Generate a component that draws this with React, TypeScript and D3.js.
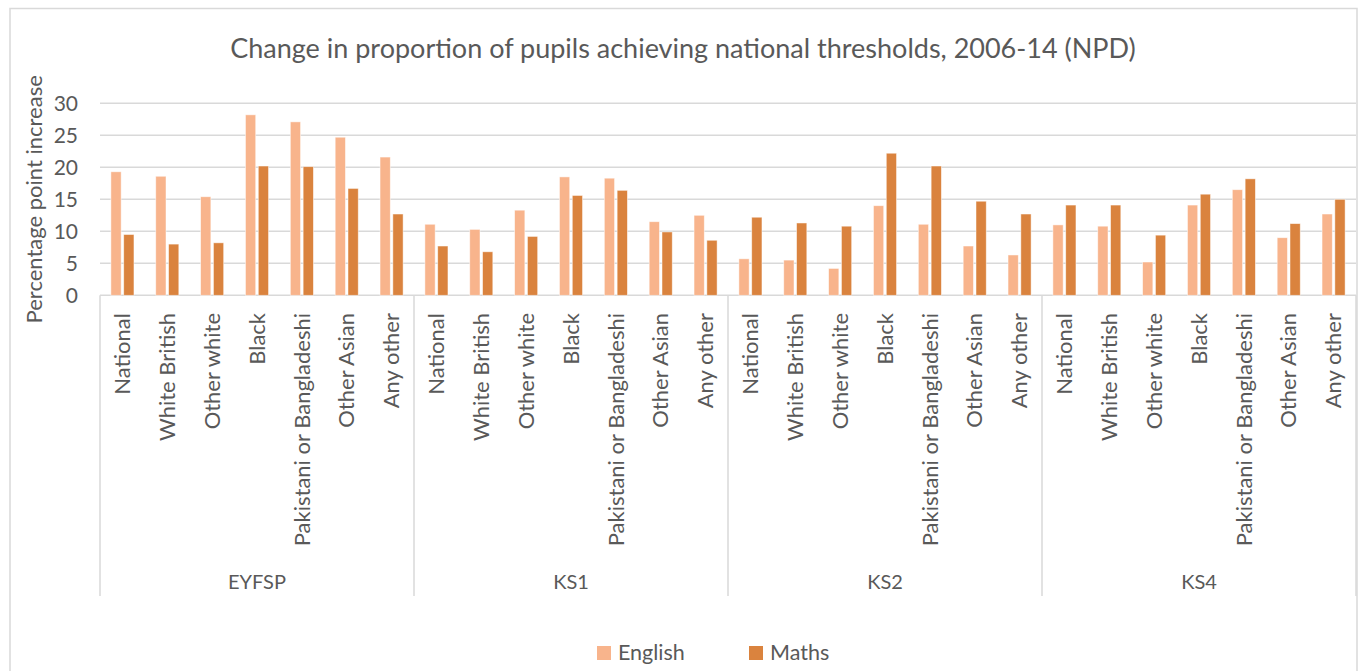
import React from "react";
import * as d3 from "d3";

const title = "Change in proportion of pupils achieving national thresholds, 2006-14 (NPD)";
const yAxisTitle = "Percentage point increase";
const stages = ["EYFSP", "KS1", "KS2", "KS4"];
const ethnicities = [
  "National",
  "White British",
  "Other white",
  "Black",
  "Pakistani or Bangladeshi",
  "Other Asian",
  "Any other",
];
const seriesNames = ["English", "Maths"];
// values ordered EYFSP, KS1, KS2, KS4 x ethnicities
const englishValues = [
  19.3, 18.6, 15.4, 28.2, 27.1, 24.7, 21.6,
  11.1, 10.3, 13.3, 18.5, 18.3, 11.5, 12.5,
  5.7, 5.5, 4.2, 14.0, 11.1, 7.7, 6.3,
  11.0, 10.8, 5.2, 14.1, 16.5, 9.0, 12.7,
];
const mathsValues = [
  9.5, 8.0, 8.2, 20.2, 20.1, 16.7, 12.7,
  7.7, 6.8, 9.2, 15.6, 16.4, 9.9, 8.6,
  12.2, 11.3, 10.8, 22.2, 20.2, 14.7, 12.7,
  14.1, 14.1, 9.4, 15.8, 18.2, 11.2, 15.0,
];
const yTicks = [0, 5, 10, 15, 20, 25, 30];

const W = 1360;
const H = 671;
const plotLeft = 100;
const plotRight = 1356;
const plotTop = 103.3;
const plotBottom = 295.3;
const sepBottom = 596;

const colors = ["#F8B48C", "#DA833E"];
const textColor = "#595959";
const gridColor = "#D9D9D9";
const font = "Lato, 'Open Sans', sans-serif";

export default function App() {
  const keys = stages.flatMap((s) => ethnicities.map((e) => `${s}|${e}`));
  const x0 = d3.scaleBand<string>().domain(keys).range([plotLeft, plotRight]).padding(0);
  const x1 = d3
    .scaleBand<string>()
    .domain(seriesNames)
    .range([0, x0.bandwidth()])
    .paddingInner(0.2)
    .paddingOuter(0.85);
  const xg = d3.scaleBand<string>().domain(stages).range([plotLeft, plotRight]).padding(0);
  const y = d3.scaleLinear().domain([0, 30]).range([plotBottom, plotTop]);
  const series = [englishValues, mathsValues];

  return (
    <svg
      width={W}
      height={H}
      style={{ position: "absolute", left: 0, top: 0, background: "#fff" }}
      fontFamily={font}
    >
      <rect x={10} y={8.5} width={1347} height={700} fill="#fff" stroke={gridColor} strokeWidth={1.5} />
      <text x={683} y={58} textAnchor="middle" fontSize={27} fill={textColor}>
        {title}
      </text>
      {/* gridlines */}
      {yTicks.map((t) => (
        <line key={t} x1={plotLeft} x2={plotRight} y1={y(t)} y2={y(t)} stroke={gridColor} strokeWidth={1.5} />
      ))}
      {yTicks.map((t) => (
        <text key={"l" + t} x={78} y={y(t)} dy="0.35em" textAnchor="end" fontSize={21} fill={textColor}>
          {t}
        </text>
      ))}
      <text
        transform={`translate(42,${(plotTop + plotBottom) / 2}) rotate(-90)`}
        textAnchor="middle"
        fontSize={22}
        fill={textColor}
      >
        {yAxisTitle}
      </text>
      {/* bars */}
      {series.map((vals, si) =>
        keys.map((k, i) => (
          <rect
            key={si + k}
            x={(x0(k) as number) + (x1(seriesNames[si]) as number)}
            y={y(vals[i])}
            width={x1.bandwidth()}
            height={y(0) - y(vals[i])}
            fill={colors[si]}
            stroke="#fff"
            strokeOpacity={0.6}
            strokeWidth={0.8}
          />
        ))
      )}
      {/* category labels */}
      {keys.map((k) => {
        const cx = (x0(k) as number) + x0.bandwidth() / 2;
        return (
          <text
            key={"c" + k}
            transform={`translate(${cx},313) rotate(-90)`}
            dy="0.35em"
            textAnchor="end"
            fontSize={22}
            fill={textColor}
          >
            {k.split("|")[1]}
          </text>
        );
      })}
      {/* group separators */}
      {stages.map((s) => (
        <line
          key={"s" + s}
          x1={xg(s) as number}
          x2={xg(s) as number}
          y1={plotBottom}
          y2={sepBottom}
          stroke={gridColor}
          strokeWidth={1.5}
        />
      ))}
      <line x1={plotRight} x2={plotRight} y1={plotBottom} y2={sepBottom} stroke={gridColor} strokeWidth={1.5} />
      {stages.map((s) => (
        <text
          key={"g" + s}
          x={(xg(s) as number) + xg.bandwidth() / 2}
          y={589}
          textAnchor="middle"
          fontSize={20}
          fill={textColor}
        >
          {s}
        </text>
      ))}
      {/* legend */}
      {seriesNames.map((n, i) => {
        const lx = [597, 749][i];
        return (
          <g key={"lg" + n}>
            <rect x={lx} y={646} width={14} height={14} fill={colors[i]} />
            <text x={lx + 21} y={660} fontSize={21.5} fill={textColor}>
              {n}
            </text>
          </g>
        );
      })}
    </svg>
  );
}
